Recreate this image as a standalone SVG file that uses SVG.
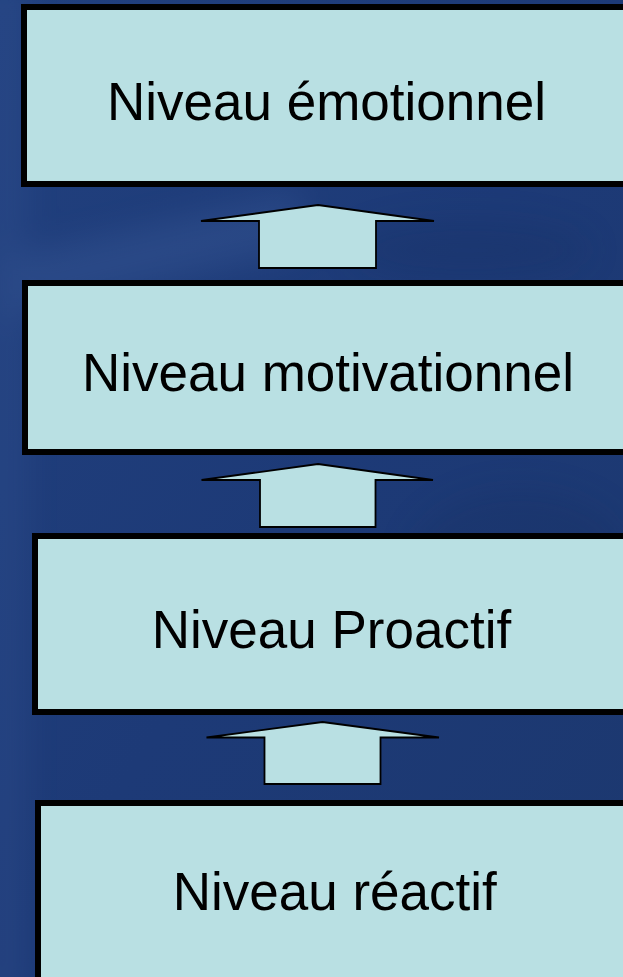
<svg xmlns="http://www.w3.org/2000/svg" width="623" height="977" viewBox="0 0 623 977">
  <defs>
    <linearGradient id="bg" x1="0" y1="0" x2="1" y2="1">
      <stop offset="0" stop-color="#21407e"/>
      <stop offset="0.5" stop-color="#1d3a77"/>
      <stop offset="1" stop-color="#1c386f"/>
    </linearGradient>
    <filter id="soft" x="-50%" y="-50%" width="200%" height="200%">
      <feGaussianBlur stdDeviation="16"/>
    </filter>
    <style>
      .box { fill: #b9e0e3; stroke: #000; stroke-width: 6; }
      .arrow { fill: #b9e0e3; stroke: #000; stroke-width: 1.8; stroke-linejoin: miter; }
      .label { font-family: "Liberation Sans", Arial, sans-serif; font-size: 53px; fill: #000; text-anchor: middle; }
    </style>
  </defs>

  <!-- backdrop -->
  <rect width="623" height="977" fill="url(#bg)"/>
  <g filter="url(#soft)" opacity="0.25">
    <rect x="-20" y="-20" width="45" height="1020" fill="#3a5a9a"/>
    <path d="M0 260 L300 190 L300 250 L0 320 Z" fill="#4a6aa8"/>
    <ellipse cx="520" cy="560" rx="110" ry="70" fill="#152e60"/>
    <ellipse cx="470" cy="250" rx="120" ry="30" fill="#152e60"/>
  </g>

  <!-- levels -->
  <g id="niveau-emotionnel">
    <rect class="box" x="24" y="7" width="640" height="177"/>
    <text class="label" x="326.5" y="120">Niveau émotionnel</text>
  </g>
  <g id="niveau-motivationnel">
    <rect class="box" x="25" y="283" width="640" height="169"/>
    <text class="label" x="328" y="391">Niveau motivationnel</text>
  </g>
  <g id="niveau-proactif">
    <rect class="box" x="35" y="536" width="640" height="176"/>
    <text class="label" x="331.5" y="648">Niveau Proactif</text>
  </g>
  <g id="niveau-reactif">
    <rect class="box" x="38" y="803" width="640" height="200"/>
    <text class="label" x="334.7" y="910">Niveau réactif</text>
  </g>

  <!-- upward block arrows between levels -->
  <g id="connectors">
    <path class="arrow" d="M318 205 L434 221 L376 221 L376 268 L259 268 L259 221 L201 221 Z"/>
    <path class="arrow" d="M318 464 L433 480 L375.5 480 L375.5 527 L260 527 L260 480 L201.5 480 Z"/>
    <path class="arrow" d="M322.5 722 L439 737.5 L380.5 737.5 L380.5 784 L264.5 784 L264.5 737.5 L206.5 737.5 Z"/>
  </g>
</svg>
